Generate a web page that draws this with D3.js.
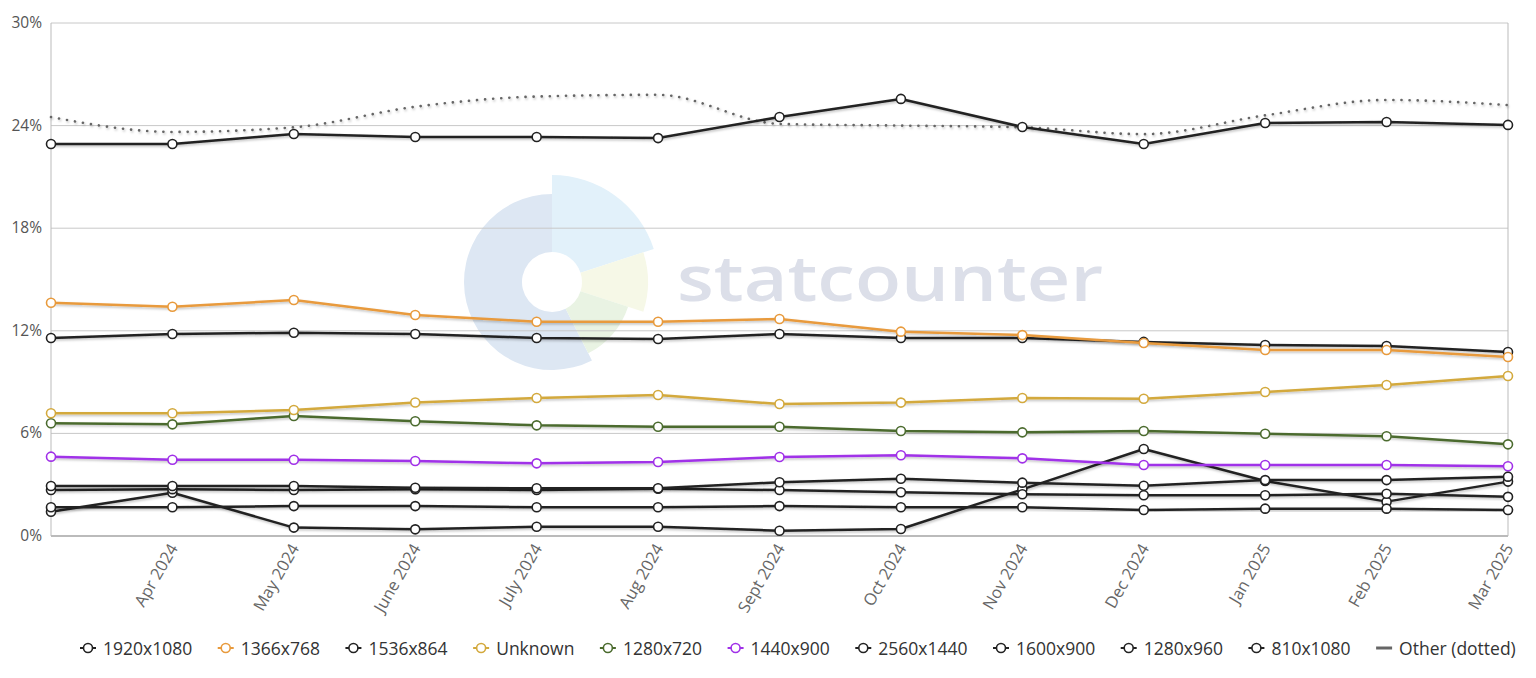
<!DOCTYPE html>
<html>
<head>
<meta charset="utf-8">
<script src="https://cdn.jsdelivr.net/npm/d3@7"></script>
<style>
  body { margin: 0; background: #fff; }
  svg { display: block; font-family: "Open Sans", sans-serif; }
</style>
</head>
<body>
<div class="chart"></div>
<script>
// months shown on the x axis (first month has no label in the original)
let months = ['Mar 2024','Apr 2024','May 2024','June 2024','July 2024','Aug 2024','Sept 2024','Oct 2024','Nov 2024','Dec 2024','Jan 2025','Feb 2025','Mar 2025']
let yTicks = [0, 6, 12, 18, 24, 30]

// share in %
let r1920x1080 = [22.92, 22.92, 23.51, 23.33, 23.33, 23.27, 24.50, 25.56, 23.92, 22.92, 24.15, 24.21, 24.04]
let r1366x768  = [13.64, 13.41, 13.80, 12.92, 12.53, 12.53, 12.69, 11.95, 11.75, 11.29, 10.88, 10.88, 10.47]
let r1536x864  = [11.58, 11.81, 11.89, 11.81, 11.58, 11.52, 11.81, 11.58, 11.58, 11.35, 11.17, 11.11, 10.76]
let rUnknown   = [7.18, 7.18, 7.37, 7.81, 8.07, 8.25, 7.72, 7.80, 8.07, 8.03, 8.42, 8.83, 9.36]
let r1280x720  = [6.59, 6.53, 7.02, 6.71, 6.47, 6.39, 6.39, 6.14, 6.06, 6.14, 5.98, 5.83, 5.36]
let r1440x900  = [4.64, 4.46, 4.46, 4.39, 4.25, 4.33, 4.62, 4.72, 4.54, 4.15, 4.15, 4.15, 4.08]
let r2560x1440 = [2.92, 2.92, 2.92, 2.82, 2.79, 2.79, 3.14, 3.35, 3.12, 2.94, 3.27, 3.27, 3.47]
let r1600x900  = [2.69, 2.74, 2.69, 2.73, 2.69, 2.76, 2.69, 2.56, 2.44, 2.38, 2.38, 2.47, 2.29]
let r1280x960  = [1.68, 1.68, 1.75, 1.75, 1.68, 1.68, 1.75, 1.68, 1.68, 1.52, 1.60, 1.60, 1.52]
let r810x1080  = [1.42, 2.53, 0.49, 0.39, 0.54, 0.54, 0.31, 0.41, 2.73, 5.09, 3.22, 2.01, 3.18]
let rOther     = [24.5, 23.63, 23.9, 25.1, 25.7, 25.8, 24.1, 24.0, 23.9, 23.5, 24.6, 25.5, 25.2]

let names  = ['1920x1080','1366x768','1536x864','Unknown','1280x720','1440x900','2560x1440','1600x900','1280x960','810x1080']
let values = [r1920x1080, r1366x768, r1536x864, rUnknown, r1280x720, r1440x900, r2560x1440, r1600x900, r1280x960, r810x1080]
let colors = ['#222','#e89a3c','#222','#d3a93d','#4b6b2e','#a030e8','#222','#222','#222','#222']

let w = 1536, h = 678
let padL = 51, padR = 1508, padT = 23, padB = 536

let svg = d3.select('.chart').append('svg').attr('width', w).attr('height', h)

let defs = svg.append('defs')
let f = defs.append('filter').attr('id','shadow').attr('x','-5%').attr('y','-50%').attr('width','110%').attr('height','200%')
f.append('feDropShadow').attr('dx',1).attr('dy',1.5).attr('stdDeviation',1.2).attr('flood-color','#000').attr('flood-opacity',0.25)

let xScale = d3.scalePoint().domain(months).range([padL, padR])
let yScale = d3.scaleLinear().domain([0, 30]).range([padB, padT])

// watermark
let wm = svg.append('g').attr('transform','translate(552,282)')
let arc = d3.arc()
let deg = Math.PI / 180
wm.append('path').attr('d', arc({innerRadius:30, outerRadius:88, startAngle:153*deg, endAngle:360*deg})).attr('fill','#dde7f3')
wm.append('path').attr('d', arc({innerRadius:30, outerRadius:107, startAngle:0, endAngle:72*deg})).attr('fill','#e2f1fa')
wm.append('path').attr('d', arc({innerRadius:30, outerRadius:96, startAngle:72*deg, endAngle:108*deg})).attr('fill','#f6f8e7')
wm.append('path').attr('d', arc({innerRadius:30, outerRadius:80, startAngle:108*deg, endAngle:153*deg})).attr('fill','#e9f3e3')
svg.append('text').text('statcounter').attr('x',677).attr('y',301)
  .attr('font-size',64).attr('font-weight',600).attr('fill','#dcdfe9')
  .attr('textLength',426).attr('lengthAdjust','spacingAndGlyphs')

// grid
svg.append('g').selectAll('line').data(yTicks).enter().append('line')
  .attr('x1', padL).attr('x2', padR)
  .attr('y1', d => yScale(d)).attr('y2', d => yScale(d))
  .attr('stroke', '#c8c8c8').attr('stroke-width', 1)
svg.append('line').attr('x1', padL).attr('x2', padL).attr('y1', padT).attr('y2', padB).attr('stroke','#bbb')
svg.append('line').attr('x1', padR).attr('x2', padR).attr('y1', padT).attr('y2', padB).attr('stroke','#bbb')
svg.append('line').attr('x1', padL).attr('x2', padR).attr('y1', padB).attr('y2', padB).attr('stroke','#bbb').attr('stroke-width',2)

// y labels
svg.append('g').selectAll('text').data(yTicks).enter().append('text')
  .attr('x', padL - 9).attr('y', d => yScale(d) + 5)
  .attr('text-anchor','end').attr('font-size',15.5).attr('fill','#555')
  .text(d => d + '%')

// x labels
svg.append('g').selectAll('text').data(months.slice(1)).enter().append('text')
  .attr('text-anchor','end').attr('font-size',16.5).attr('fill','#666')
  .attr('transform', d => 'translate(' + (xScale(d) + 6) + ',' + (padB + 12) + ') rotate(-60)')
  .text(d => d)

// other (dotted)
let line = d3.line().x((d,i) => xScale(months[i])).y(d => yScale(d))
svg.append('path').attr('d', line.curve(d3.curveMonotoneX)(rOther))
  .attr('fill','none').attr('stroke','#666').attr('stroke-width',2.6)
  .attr('stroke-dasharray','0.1,8').attr('stroke-linecap','round').attr('filter','url(#shadow)')

// series, drawn from last to first so the top legend entries are on top
let straight = d3.line().x((d,i) => xScale(months[i])).y(d => yScale(d))
for (let s = names.length - 1; s >= 0; s--) {
  let g = svg.append('g').attr('class','series')
  g.append('path').attr('d', straight(values[s]))
    .attr('fill','none').attr('stroke', colors[s]).attr('stroke-width',2.5)
    .attr('stroke-linejoin','round').attr('filter','url(#shadow)')
  g.selectAll('circle').data(values[s]).enter().append('circle')
    .attr('cx', (d,i) => xScale(months[i])).attr('cy', d => yScale(d)).attr('r', 4.5)
    .attr('fill','#fff').attr('stroke', colors[s]).attr('stroke-width',1.6)
}

// legend
let legend = svg.append('g').attr('transform','translate(0,648)')
let items = names.map((n,i) => ({name:n, color:colors[i], marker:true}))
items.push({name:'Other (dotted)', color:'#666', marker:false})
let xs = 80
items.forEach(it => {
  let g = legend.append('g').attr('transform','translate(' + xs + ',0)')
  g.append('line').attr('x1',0).attr('x2',16).attr('y1',0).attr('y2',0)
    .attr('stroke', it.color).attr('stroke-width', it.marker ? 2 : 3)
  if (it.marker) g.append('circle').attr('cx',8).attr('cy',0).attr('r',4.5)
    .attr('fill','#fff').attr('stroke', it.color).attr('stroke-width',1.6)
  let t = g.append('text').attr('x',23).attr('y',6.5).attr('font-size',17.5).attr('fill','#333').text(it.name)
  xs += 23 + t.node().getComputedTextLength() + 25.5
})
</script>
</body>
</html>
